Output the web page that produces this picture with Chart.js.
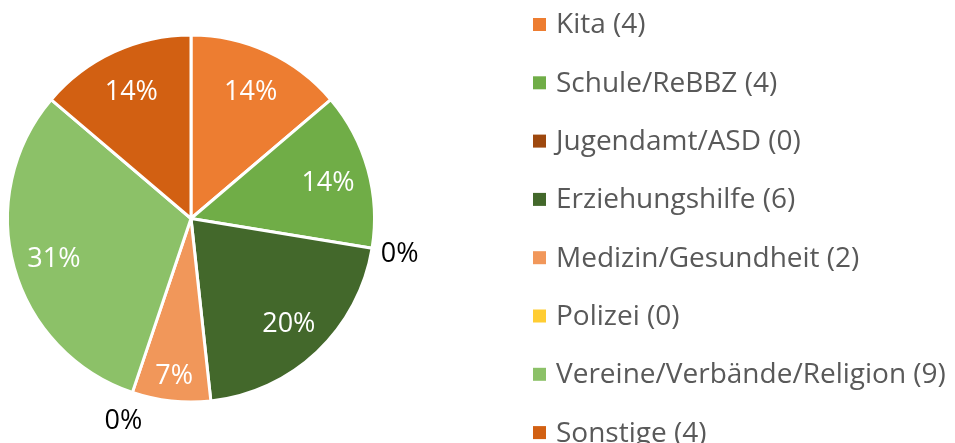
<!DOCTYPE html>
<html>
<head>
<meta charset="utf-8">
<script src="https://cdn.jsdelivr.net/npm/chart.js@4"></script>
<style>
    html, body { margin: 0; padding: 0; background: #fff; }
    #wrap { width: 955px; height: 443px; position: relative; }
</style>
</head>
<body>
<div id="wrap"><canvas id="pieChart"></canvas></div>
<script>
// Daten
const categories = ['Kita', 'Schule/ReBBZ', 'Jugendamt/ASD', 'Erziehungshilfe', 'Medizin/Gesundheit', 'Polizei', 'Vereine/Verbände/Religion', 'Sonstige'];
const counts = [4, 4, 0, 6, 2, 0, 9, 4];
const percentLabels = ['14%', '14%', '0%', '20%', '7%', '0%', '31%', '14%'];
const sliceColors = ['#ED7D31', '#70AD47', '#9E480E', '#43682B', '#F1975A', '#FFCD33', '#8CC168', '#D26012'];

const FONT = '"Open Sans", sans-serif';

// Prozent-Beschriftungen auf den Segmenten
const sliceLabels = {
    id: 'sliceLabels',
    afterDatasetsDraw(chart) {
        const ctx = chart.ctx;
        const arcs = chart.getDatasetMeta(0).data;
        const total = counts.reduce((a, b) => a + b, 0);
        ctx.save();
        ctx.font = '27px ' + FONT;
        ctx.textAlign = 'center';
        ctx.textBaseline = 'middle';
        arcs.forEach((arc, i) => {
            const mid = (arc.startAngle + arc.endAngle) / 2;
            const share = counts[i] / total;
            let r;
            if (counts[i] === 0) r = arc.outerRadius + 28;
            else r = arc.outerRadius * (share < 0.1 ? 0.85 : 0.775);
            ctx.fillStyle = counts[i] > 0 ? '#ffffff' : '#000000';
            const dy = counts[i] > 0 ? 3 : 2;
            ctx.fillText(percentLabels[i], arc.x + Math.cos(mid) * r, arc.y + Math.sin(mid) * r + dy);
        });
        ctx.restore();
    }
};

// Legende rechts, eigene Zeichnung wegen grossem Zeilenabstand
const sideLegend = {
    id: 'sideLegend',
    afterDraw(chart) {
        const ctx = chart.ctx;
        ctx.save();
        ctx.font = '28px ' + FONT;
        ctx.textBaseline = 'middle';
        ctx.textAlign = 'left';
        categories.forEach((name, i) => {
            const y = 24.5 + i * 58.3;
            ctx.fillStyle = sliceColors[i];
            ctx.fillRect(533, y - 6.5, 13, 13);
            ctx.fillStyle = '#595959';
            ctx.fillText(`${name} (${counts[i]})`, 556, y + 1);
        });
        ctx.restore();
    }
};

const ctx = document.getElementById('pieChart').getContext('2d');
new Chart(ctx, {
    type: 'pie',
    data: {
        labels: categories,
        datasets: [{
            data: counts,
            backgroundColor: sliceColors,
            borderColor: '#ffffff',
            borderWidth: 3,
            hoverOffset: 0
        }]
    },
    options: {
        responsive: true,
        maintainAspectRatio: false,
        animation: false,
        layout: { padding: { left: 6, right: 579, top: 33.5, bottom: 39.5 } },
        plugins: {
            legend: { display: false },
            title: { display: false },
            tooltip: { enabled: false }
        }
    },
    plugins: [sliceLabels, sideLegend]
});
</script>
</body>
</html>
